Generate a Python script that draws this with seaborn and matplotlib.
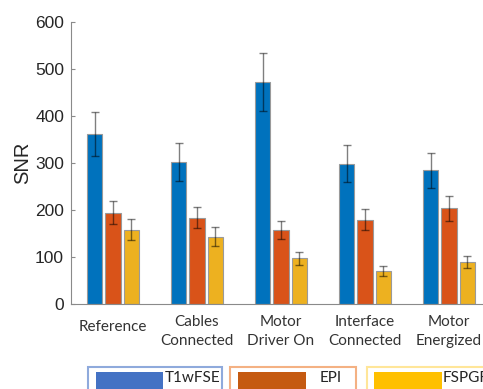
import matplotlib
matplotlib.use("Agg")
import matplotlib.pyplot as plt
import matplotlib.transforms as mtransforms
from matplotlib.patches import Rectangle
import numpy as np
import pandas as pd
import seaborn as sns

# Conditions and imaging sequences
conditions = ["Reference", "Cables\nConnected", "Motor\nDriver On",
              "Interface\nConnected", "Motor\nEnergized"]
sequences = ["T1wFSE", "EPI", "FSPGR"]

# Mean SNR per sequence (one value per condition)
snr_t1wfse = [362, 302, 472, 298, 284]
snr_epi = [194, 183, 157, 179, 203]
snr_fspgr = [158, 143, 97, 70, 89]

# Standard deviation per sequence
sd_t1wfse = [47, 40, 62, 39, 38]
sd_epi = [24, 22, 20, 22, 27]
sd_fspgr = [23, 21, 14, 11, 13]

bar_colors = ["#0072BD", "#D95319", "#EDB120"]
legend_fill = ["#4472C4", "#C55A11", "#FFC000"]
legend_edge = ["#8FAADC", "#F4B183", "#FFE699"]

means = [snr_t1wfse, snr_epi, snr_fspgr]
sds = [sd_t1wfse, sd_epi, sd_fspgr]

df = pd.DataFrame({
    "condition": [c for _ in sequences for c in conditions],
    "sequence": [s for s in sequences for _ in conditions],
    "snr": [v for m in means for v in m],
})

sns.set_theme(style="white")
plt.rcParams["font.family"] = ["Liberation Sans", "DejaVu Sans"]

W, H = 483, 389
fig = plt.figure(figsize=(W / 100, H / 100), dpi=100)
ax = fig.add_axes([71 / W, 1 - 303.7 / H, 420 / W, (303.7 - 22) / H])

sns.barplot(data=df, x="condition", y="snr", hue="sequence",
            order=conditions, hue_order=sequences, palette=bar_colors,
            width=0.66, gap=0.16, errorbar=None, legend=False,
            edgecolor="#9a9a9a", linewidth=0.8, saturation=1, ax=ax)

# Error bars centred on each drawn bar
for container, sd in zip(ax.containers, sds):
    xs = [p.get_x() + p.get_width() / 2 for p in container.patches]
    ys = [p.get_height() for p in container.patches]
    ax.errorbar(xs, ys, yerr=sd, fmt="none", ecolor=(0, 0, 0, 0.5),
                elinewidth=1.0, capsize=3, capthick=1.0, zorder=5)

ax.set_xlim(-0.5, 4.5)
ax.set_ylim(0, 600)
ax.set_yticks([0, 100, 200, 300, 400, 500, 600])
ax.set_xlabel("")
ax.set_ylabel("SNR", fontsize=14.5, color="#262626", labelpad=2)

for side in ["top", "right"]:
    ax.spines[side].set_visible(False)
for side in ["left", "bottom"]:
    ax.spines[side].set_color("#8a8a8a")
    ax.spines[side].set_linewidth(0.8)

ax.tick_params(axis="y", direction="in", length=3, width=0.8, color="#8a8a8a",
               labelsize=12.5, labelcolor="#262626", pad=5, left=True)
ax.tick_params(axis="x", direction="in", length=2, width=0.8, color="#8a8a8a",
               pad=8, bottom=True)

ax.set_xticks(range(len(conditions)))
ax.set_xticklabels(conditions, family=["Lato", "DejaVu Sans"], fontsize=11,
                   color="#333333", linespacing=1.45, va="top")
# Single-line label sits a little lower
first = ax.get_xticklabels()[0]
first.set_transform(first.get_transform() +
                    mtransforms.ScaledTranslation(0, -4 / 72, fig.dpi_scale_trans))

# Separate boxed legend entries below the plot (pixel geometry)
box_left = [88, 230, 366.7]
box_right = [221.7, 356, 500]
fill_left = [96, 238, 374]
fill_right = [163, 306, 441.7]
text_left = [165, 320, 443]
box_top, fill_top, text_top = 366.7, 371.7, 370.5
for name, fc, ec, bl, br, fl, fr, tl in zip(sequences, legend_fill, legend_edge,
                                            box_left, box_right, fill_left,
                                            fill_right, text_left):
    fig.add_artist(Rectangle((bl / W, 1 - (box_top + 40) / H), (br - bl) / W,
                             40 / H, transform=fig.transFigure, facecolor="white",
                             edgecolor=ec, linewidth=1.5))
    fig.add_artist(Rectangle((fl / W, 1 - (fill_top + 40) / H), (fr - fl) / W,
                             40 / H, transform=fig.transFigure, facecolor=fc,
                             edgecolor="none"))
    fig.text(tl / W, 1 - text_top / H, name, ha="left", va="top",
             family=["Lato", "DejaVu Sans"], fontsize=11, color="#262626")

fig.savefig("out.png", dpi=100, facecolor="white")
